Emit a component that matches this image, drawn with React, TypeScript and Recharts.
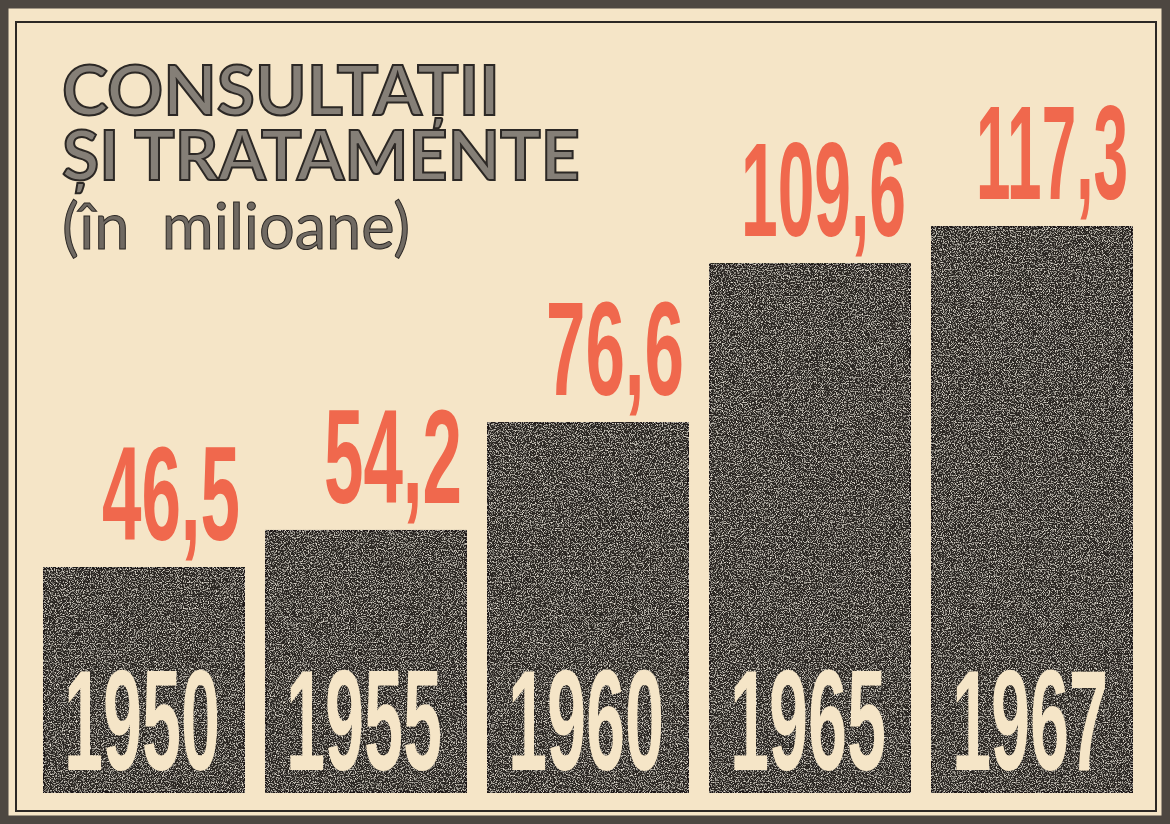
import { BarChart, Bar, XAxis, YAxis, LabelList } from 'recharts';

const years = ['1950', '1955', '1960', '1965', '1967'];
const values = [46.5, 54.2, 76.6, 109.6, 117.3];
const valueLabels = ['46,5', '54,2', '76,6', '109,6', '117,3'];

const titleLines = ['CONSULTAȚII', 'ȘI TRATAMENTE'];
const subtitle = '(în  milioane)';

const PAPER = '#f5e5c7';
const RED = '#f0684d';
const BAR = '#2b2724';
const BAR_EDGE = '#1a1613';
const INK = '#2c2825';
const FONT = "'Liberation Sans', Arial, sans-serif";

const data = years.map((year, i) => ({ year, value: values[i], label: valueLabels[i] }));

// width of the condensed newspaper digits as printed, and the natural em width in Liberation Sans Bold
const printedWidth = (s: string) =>
  s.split('').reduce((w, c) => w + (c === ',' ? 18 : c === '1' ? 27 : 40), 0);
const emWidth = (s: string) => s.split('').reduce((w, c) => w + (c === ',' ? 0.278 : 0.556), 0);

// condensed tall text: font sized for the width, then stretched vertically
function TallText(props: any) {
  const { x, y, text, width, capHeight, anchor, fill } = props;
  const fs = width / emWidth(text);
  const sy = capHeight / (0.716 * fs);
  return (
    <text
      transform={`translate(${x},${y}) scale(1,${sy})`}
      textAnchor={anchor}
      fontFamily={FONT}
      fontWeight={700}
      fontSize={fs}
      fill={fill}
      textLength={width}
      lengthAdjust="spacingAndGlyphs"
    >
      {text}
    </text>
  );
}

function TexturedBar(props: any) {
  const { x, y, width, height } = props;
  return (
    <rect x={x} y={y} width={width} height={height} fill={BAR} stroke={BAR_EDGE} strokeWidth={2} filter="url(#grain)" />
  );
}

function ValueLabel(props: any) {
  const { x, y, width, value } = props;
  const s = String(value);
  return <TallText x={x + width - 4} y={y - 28} text={s} width={printedWidth(s)} capHeight={95} anchor="end" fill={RED} />;
}

function YearLabel(props: any) {
  const { x, y, width, height, value } = props;
  return (
    <TallText x={x + width / 2 - 2} y={y + height - 22} text={String(value)} width={156} capHeight={102} anchor="middle" fill={PAPER} />
  );
}

export default function App() {
  return (
    <div style={{ position: 'absolute', left: 0, top: 0, width: 1170, height: 824, background: PAPER, overflow: 'hidden' }}>
      <BarChart width={1170} height={824} data={data} margin={{ top: 227, right: 27, bottom: 32, left: 33 }}>
        <XAxis dataKey="year" hide />
        <YAxis hide domain={[0, 'dataMax']} />
        <Bar dataKey="value" barSize={200} isAnimationActive={false} shape={TexturedBar}>
          <LabelList dataKey="label" content={ValueLabel} />
          <LabelList dataKey="year" content={YearLabel} />
        </Bar>
      </BarChart>

      <svg width={1170} height={824} style={{ position: 'absolute', left: 0, top: 0, pointerEvents: 'none' }}>
        <defs>
          <filter id="grain" x="-2%" y="-2%" width="104%" height="104%">
            <feTurbulence type="fractalNoise" baseFrequency="0.85" numOctaves="2" seed="7" result="noise" />
            <feColorMatrix
              in="noise"
              type="matrix"
              values="0 0 0 0 0.93  0 0 0 0 0.88  0 0 0 0 0.78  2.8 0 0 0 -1.38"
              result="specks"
            />
            <feComposite in="specks" in2="SourceGraphic" operator="in" result="clipped" />
            <feMerge>
              <feMergeNode in="SourceGraphic" />
              <feMergeNode in="clipped" />
            </feMerge>
          </filter>
        </defs>

        {/* frames */}
        <rect x={4} y={4} width={1162} height={816} fill="none" stroke="#4d4741" strokeWidth={9} />
        <rect x={16} y={22} width={1140} height={789} fill="none" stroke={INK} strokeWidth={2} />

        {/* title */}
        <text x={62} y={115} fontFamily="Lato, 'DejaVu Sans', sans-serif" fontWeight={700} fontSize={68}
          fill="#857f77" stroke={INK} strokeWidth={2} textLength={438} lengthAdjust="spacingAndGlyphs">
          {titleLines[0]}
        </text>
        <text x={62} y={180} fontFamily="Lato, 'DejaVu Sans', sans-serif" fontWeight={700} fontSize={68}
          fill="#857f77" stroke={INK} strokeWidth={2} textLength={518} lengthAdjust="spacingAndGlyphs">
          {titleLines[1]}
        </text>
        <text x={62} y={249} fontFamily="Lato, 'DejaVu Sans', sans-serif" fontWeight={400} fontSize={64}
          fill="#6f6962" stroke={INK} strokeWidth={1} textLength={348} lengthAdjust="spacingAndGlyphs"
          style={{ whiteSpace: 'pre' }}>
          {subtitle}
        </text>
      </svg>
    </div>
  );
}
